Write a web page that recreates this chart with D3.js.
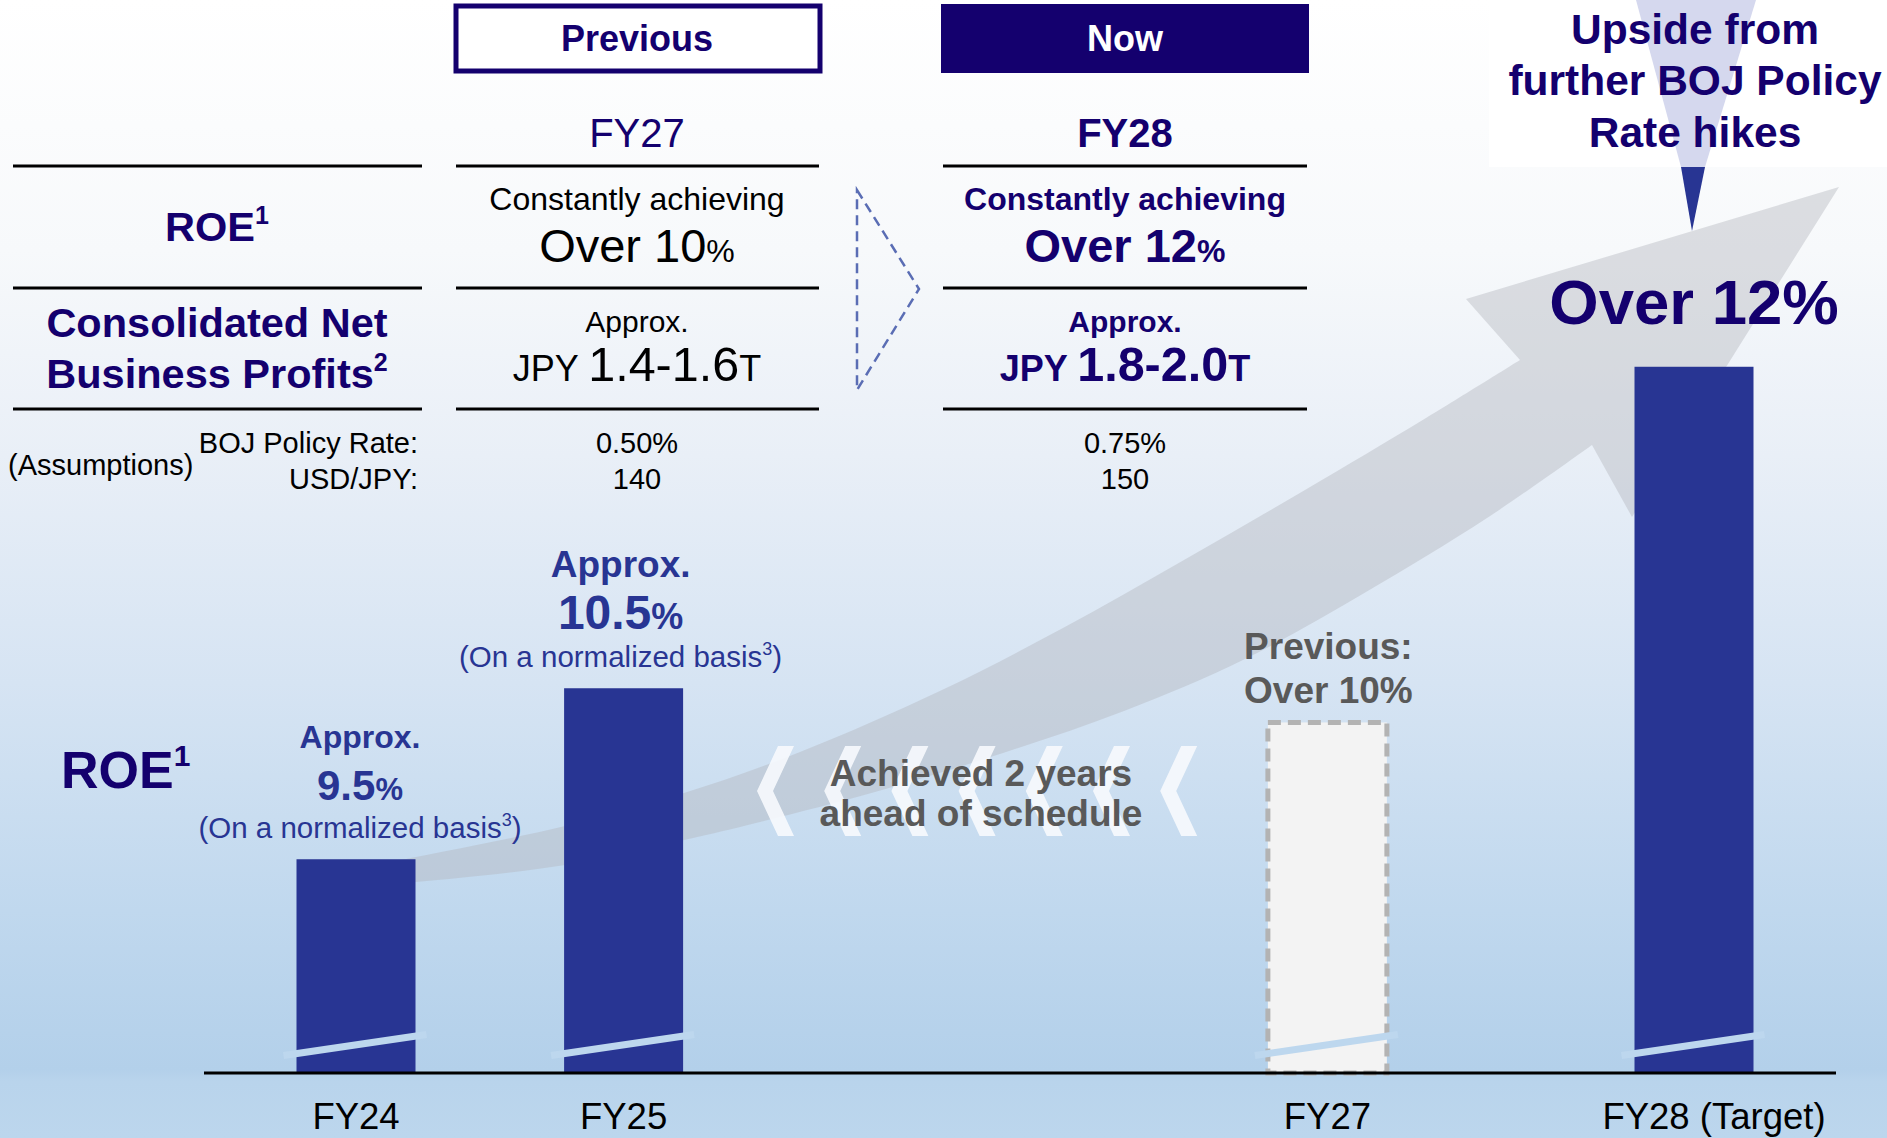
<!DOCTYPE html>
<html><head><meta charset="utf-8">
<script src="https://cdn.jsdelivr.net/npm/d3@7"></script>
<style>
html,body{margin:0;padding:0;background:#fff;overflow:hidden;}
svg{display:block;}
text{font-family:"Liberation Sans",Arial,"DejaVu Sans",sans-serif;}
</style>
</head><body>
<svg id="chart" width="1887" height="1138"></svg>
<script>
// ---------------- DATA ----------------
const categories = ["FY24", "FY25", "FY27", "FY28"];
const axisLabels = ["FY24", "FY25", "FY27", "FY28 (Target)"];
// bar heights (FY27 "Over 10%", FY28 "Over 12%" estimated from drawn height)
const roeValues = [9.5, 10.5, 10.3, 12.38];
const barStatus = ["actual", "actual", "previous", "target"];
const approxValues = ["9.5", "10.5"];
const prevLabel = ["Previous:", "Over 10%"];
const targetLabel = "Over 12%";
const planLabels = ["Previous", "Now"];
const planYears = ["FY27", "FY28"];
const roeTargets = ["Over 10", "Over 12"];
const profitRanges = ["1.4-1.6", "1.8-2.0"];
const bojRates = ["0.50%", "0.75%"];
const usdJpy = ["140", "150"];
const upsideLines = ["Upside from", "further BOJ Policy", "Rate hikes"];
const scheduleLines = ["Achieved 2 years", "ahead of schedule"];

// ---------------- STYLE / LAYOUT ----------------
const W = 1887, H = 1138;
const NAVY = "#14006e", BAR = "#283593", GREY = "#595959";
const svg = d3.select("#chart");
const defs = svg.append("defs");

const bg = defs.append("linearGradient").attr("id", "bg").attr("x1", 0).attr("y1", 0).attr("x2", 0).attr("y2", 1);
[[0, "#ffffff"], [0.22, "#f7f9fb"], [0.4, "#e9eff7"], [0.6, "#d6e4f3"], [0.8, "#c0d8ee"],
 [0.94, "#b3d0ea"], [0.95, "#b9d4ec"], [1, "#bcd6ed"]].forEach(([o, c]) =>
  bg.append("stop").attr("offset", o).attr("stop-color", c));
svg.append("rect").attr("width", W).attr("height", H).attr("fill", "url(#bg)");

// scales
const slot = { FY24: 0, FY25: 1, FY27: 3.63, FY28: 5 };
const x = d3.scaleLinear().domain([0, 5]).range([356, 1694]);
const barW = 119;
const baseY = 1073;
const y = d3.scaleLinear().domain([8.25, 12.38]).range([baseY, baseY - 4.13 * 171]);
const cx = c => x(slot[c]);

// ---------------- BIG GREY ARROW ----------------
const upper = [[330, 873], [416, 857], [565, 826], [684, 793], [800, 752], [942, 690], [1063, 628],
  [1184, 560], [1305, 490], [1426, 418], [1520, 360]];
const lower = [[1592, 445], [1487, 518], [1366, 592], [1245, 659], [1124, 711], [1003, 753],
  [882, 790], [760, 822], [684, 840], [565, 865], [416, 882], [330, 888]];
const curve = d3.line().curve(d3.curveCatmullRom.alpha(0.5));
const up = curve(upper), lo = curve(lower);
const arrowPath = up + " L1466,299 L1839,187 L1632,517 L1592,445 " + lo.replace(/^M/, "L") + " Z";
svg.append("path").attr("d", arrowPath).attr("fill", "#b2b6bc").attr("fill-opacity", 0.42);

// chevrons
const chevG = svg.append("g");
d3.range(7).forEach(i => {
  const a = 757 + i * 67.2;
  chevG.append("polygon")
    .attr("points", [[a + 37, 746], [a + 16, 791], [a + 37, 836], [a + 21, 836], [a, 791], [a + 21, 746]].map(p => p.join(",")).join(" "))
    .attr("fill", "#f7fafd").attr("fill-opacity", 0.9);
});
scheduleLines.forEach((s, i) => {
  svg.append("text").attr("x", 981).attr("y", 786 + i * 40).attr("text-anchor", "middle")
    .attr("font-size", 37).attr("font-weight", "bold").attr("fill", GREY).text(s);
});

// ---------------- BARS ----------------
const bars = svg.append("g");
categories.forEach((c, i) => {
  const x0 = cx(c) - barW / 2, top = y(roeValues[i]);
  const r = bars.append("rect").attr("x", x0).attr("y", top).attr("width", barW).attr("height", baseY - top);
  if (barStatus[i] === "previous") {
    r.attr("fill", "#f3f3f3").attr("stroke", "#b3b3b3").attr("stroke-width", 5).attr("stroke-dasharray", "13,7");
  } else {
    r.attr("fill", BAR);
  }
  // axis-break mark
  bars.append("line").attr("x1", x0 - 13).attr("y1", baseY - 17.5).attr("x2", x0 + barW + 11).attr("y2", baseY - 38.5)
    .attr("stroke", "#bdd7ee").attr("stroke-width", 7);
});

// axis line
svg.append("line").attr("x1", 204).attr("x2", 1836).attr("y1", baseY).attr("y2", baseY)
  .attr("stroke", "#000").attr("stroke-width", 3);
axisLabels.forEach((l, i) => {
  svg.append("text").attr("x", cx(categories[i]) + (i === 3 ? 20 : 0)).attr("y", 1129)
    .attr("text-anchor", "middle").attr("font-size", 36.5).attr("fill", "#000").text(l);
});

// value labels
function mixed(xp, yp, parts, opts) {
  const t = svg.append("text").attr("x", xp).attr("y", yp).attr("text-anchor", opts.anchor || "middle")
    .attr("fill", opts.fill).attr("font-weight", opts.weight || "normal");
  parts.forEach(p => {
    const s = t.append("tspan").text(p.t).attr("font-size", p.s);
    if (p.dy) s.attr("dy", p.dy);
  });
  return t;
}
[0, 1].forEach(i => {
  const c = categories[i], top = y(roeValues[i]);
  const apx = i === 0 ? 32 : 37, big = i === 0 ? 42 : 48, pct = i === 0 ? 31 : 36;
  const lx = cx(c) + (i === 0 ? 4 : -3);
  mixed(lx, top - 111, [{ t: "Approx.", s: apx }], { fill: BAR, weight: "bold" });
  mixed(lx, top - 59, [{ t: approxValues[i], s: big }, { t: "%", s: pct }], { fill: BAR, weight: "bold" });
  mixed(lx, top - 21, [{ t: "(On a normalized basis", s: 29.5 }, { t: "3", s: 18, dy: -12 }, { t: ")", s: 29.5, dy: 12 }], { fill: BAR });
});
{
  const top = y(roeValues[2]);
  prevLabel.forEach((s, i) => mixed(cx("FY27") + 1, top - 63 + i * 44, [{ t: s, s: 37 }], { fill: GREY, weight: "bold" }));
  const t28 = y(roeValues[3]);
  mixed(cx("FY28"), t28 - 43, [{ t: targetLabel, s: 63.5 }], { fill: NAVY, weight: "bold" });
}
mixed(61, 788, [{ t: "ROE", s: 52 }, { t: "1", s: 30, dy: -22 }], { fill: NAVY, weight: "bold", anchor: "start" });

// ---------------- UPSIDE BOX ----------------
svg.append("rect").attr("x", 1489).attr("y", 0).attr("width", W - 1489).attr("height", 167).attr("fill", "#ffffff");
svg.append("polygon").attr("points", "1636,0 1756,0 1705,167 1681,167").attr("fill", "#d5d8ee");
svg.append("polygon").attr("points", "1681,167 1705,167 1692,231").attr("fill", BAR);
upsideLines.forEach((s, i) => {
  svg.append("text").attr("x", 1695).attr("y", 44 + i * 51.3).attr("text-anchor", "middle")
    .attr("font-size", 42.5).attr("font-weight", "bold").attr("fill", NAVY).text(s);
});

// ---------------- TABLE ----------------
svg.append("rect").attr("x", 456).attr("y", 6).attr("width", 364).attr("height", 65)
  .attr("fill", "#fff").attr("stroke", NAVY).attr("stroke-width", 5);
svg.append("rect").attr("x", 941).attr("y", 4).attr("width", 368).attr("height", 69).attr("fill", NAVY);
const colCx = [637, 1125];
planLabels.forEach((p, i) => {
  svg.append("text").attr("x", colCx[i]).attr("y", 51).attr("text-anchor", "middle").attr("font-size", 36)
    .attr("font-weight", "bold").attr("fill", i === 0 ? NAVY : "#ffffff").text(p);
});
const ruleY = [166, 288, 409];
const colSpans = [[13, 422], [456, 819], [943, 1307]];
ruleY.forEach(ry => colSpans.forEach(([a, b]) =>
  svg.append("line").attr("x1", a).attr("x2", b).attr("y1", ry).attr("y2", ry).attr("stroke", "#000").attr("stroke-width", 3)));

mixed(217, 241, [{ t: "ROE", s: 41.5 }, { t: "1", s: 25, dy: -17 }], { fill: NAVY, weight: "bold" });
mixed(217, 337, [{ t: "Consolidated Net", s: 41.5 }], { fill: NAVY, weight: "bold" });
mixed(217, 388, [{ t: "Business Profits", s: 41.5 }, { t: "2", s: 25, dy: -17 }], { fill: NAVY, weight: "bold" });
mixed(8, 475, [{ t: "(Assumptions)", s: 29 }], { fill: "#000", anchor: "start" });
mixed(418, 453, [{ t: "BOJ Policy Rate:", s: 29 }], { fill: "#000", anchor: "end" });
mixed(418, 489, [{ t: "USD/JPY:", s: 29 }], { fill: "#000", anchor: "end" });

planYears.forEach((yr, i) => {
  const c = colCx[i];
  const fill = i === 0 ? "#000" : NAVY, weight = i === 0 ? "normal" : "bold";
  mixed(c, 147, [{ t: yr, s: 40 }], { fill: NAVY, weight });
  mixed(c, 210, [{ t: "Constantly achieving", s: 32 }], { fill, weight });
  mixed(c, 262, [{ t: roeTargets[i], s: 47 }, { t: "%", s: 32 }], { fill, weight });
  mixed(c, 332, [{ t: "Approx.", s: 30 }], { fill, weight });
  mixed(c, 381, [{ t: "JPY ", s: 36 }, { t: profitRanges[i], s: 48.5 }, { t: "T", s: 36 }], { fill, weight });
  mixed(c, 453, [{ t: bojRates[i], s: 29 }], { fill: "#000" });
  mixed(c, 489, [{ t: usdJpy[i], s: 29 }], { fill: "#000" });
});

svg.append("path").attr("d", "M857,190 L919,289 L857,390 Z").attr("fill", "none")
  .attr("stroke", "#5a6db4").attr("stroke-width", 2.5).attr("stroke-dasharray", "10,6");
</script>
</body></html>
